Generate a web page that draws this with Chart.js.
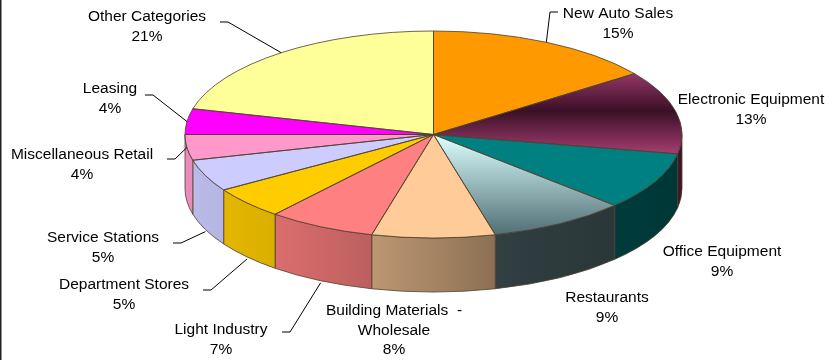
<!DOCTYPE html>
<html>
<head>
<meta charset="utf-8">
<title>Sales by category</title>
<script src="https://cdn.jsdelivr.net/npm/chart.js@4.4.1/dist/chart.umd.min.js"></script>
<style>
  html, body { margin: 0; padding: 0; background: #fff; }
  #wrap { width: 829px; height: 360px; }
</style>
</head>
<body>
<div id="wrap"><canvas id="pie" width="829" height="360"></canvas></div>
<script>
const categories = [
    "New Auto Sales", "Electronic Equipment", "Office Equipment", "Restaurants",
    "Building Materials  -\nWholesale", "Light Industry", "Department Stores",
    "Service Stations", "Miscellaneous Retail", "Leasing", "Other Categories",
];
const shares = [15, 13, 9, 9, 8, 7, 5, 5, 4, 4, 21];

// lid colours, and the base colour the outer wall is shaded from
const lidColors = ["#FF9900", "#993366", "#008080", "#CCFFFF", "#FFCC99", "#FF8080",
    "#FFCC00", "#CCCCFF", "#FF99CC", "#FF00FF", "#FFFF99"];
const wallColors = ["#FF9900", "#993366", "#008080", "#5A7478", "#FFCC99", "#FF8080",
    "#FFCC00", "#CCCCFF", "#FF99CC", "#FF00FF", "#FFFF99"];
// two slices get a vertical gradient on the lid: [screen y from, screen y to, stops]
const lidGradients = {
    1: [70, 152, [[0, "#9c3a6c"], [0.5, "#3a1026"], [1, "#a03c6e"]]],
    3: [135, 238, [[0, "#dcffff"], [1, "#4c6a70"]]],
};

// where each label sits: centre x, first line y, and the leader line start (null = none)
const labelSpots = [
    { x: 618, y: 14, lx: 558, ly: 12 },
    { x: 751, y: 100, lx: null },
    { x: 722, y: 252, lx: null },
    { x: 607, y: 298, lx: null },
    { x: 394, y: 311, lx: null },
    { x: 221, y: 330, lx: 282, ly: 332 },
    { x: 124, y: 285, lx: 203, ly: 290 },
    { x: 103, y: 238, lx: 173, ly: 243 },
    { x: 82, y: 155, lx: 167, ly: 159 },
    { x: 110, y: 89, lx: 145, ly: 95 },
    { x: 147, y: 17, lx: 220, ly: 22 },
];

const TOP_Y = 134.5;          // screen y of the lid centre
const TILT = 103.5 / 248.5;   // vertical squash of the lid
const DEPTH = 54;             // wall height
const EDGE = "rgba(75, 62, 45, 0.8)";
const FONT = "15.5px 'Liberation Sans', Arial, sans-serif";
const LINE_H = 19.5;

// light falls from the left: brightness of the wall by normalised x
const lightStops = [[-1, 0.92], [-0.6, 0.85], [-0.25, 0.74], [0.25, 0.55], [1, 0.42]];

function lightAt(u) {
    for (let i = 1; i < lightStops.length; i++) {
        const [u0, f0] = lightStops[i - 1];
        const [u1, f1] = lightStops[i];
        if (u <= u1) return f0 + (f1 - f0) * Math.max(0, (u - u0) / (u1 - u0));
    }
    return lightStops[lightStops.length - 1][1];
}

function shade(hex, f) {
    const n = parseInt(hex.slice(1), 16);
    const c = [n >> 16, (n >> 8) & 255, n & 255].map((v) => Math.round(v * f));
    return `rgb(${c[0]}, ${c[1]}, ${c[2]})`;
}

function lidFill(c) {
    const i = c.dataIndex;
    if (i === undefined) return lidColors[0];
    const area = c.chart.chartArea;
    const spec = lidGradients[i];
    if (!area || !spec) return lidColors[i];
    const midY = (area.top + area.bottom) / 2;
    const toChart = (ys) => midY + (ys - TOP_Y) / TILT;
    const g = c.chart.ctx.createLinearGradient(0, toChart(spec[0]), 0, toChart(spec[1]));
    spec[2].forEach(([t, col]) => g.addColorStop(t, col));
    return g;
}

const pie3d = {
    id: "pie3d",
    beforeDatasetsDraw(chart) {
        const ctx = chart.ctx;
        const arcs = chart.getDatasetMeta(0).data;
        const cx = arcs[0].x;
        const r = arcs[0].outerRadius;
        const ry = r * TILT;

        // outer wall, only the front half shows
        arcs.forEach((arc, i) => {
            const s = Math.max(arc.startAngle, 0);
            const e = Math.min(arc.endAngle, Math.PI);
            if (e <= s) return;
            const xl = cx + r * Math.cos(e);
            const xr = cx + r * Math.cos(s);
            const g = ctx.createLinearGradient(xl, 0, xr, 0);
            [0, 0.25, 0.5, 0.75, 1].forEach((t) => {
                const u = (xl + (xr - xl) * t - cx) / r;
                g.addColorStop(t, shade(wallColors[i], lightAt(u)));
            });
            ctx.beginPath();
            ctx.ellipse(cx, TOP_Y, r, ry, 0, s, e);
            ctx.ellipse(cx, TOP_Y + DEPTH, r, ry, 0, e, s, true);
            ctx.closePath();
            ctx.fillStyle = g;
            ctx.fill();
            ctx.strokeStyle = EDGE;
            ctx.lineWidth = 1;
            ctx.stroke();
        });

        // squash the circle Chart.js draws into the lid ellipse
        ctx.save();
        ctx.translate(0, TOP_Y);
        ctx.scale(1, TILT);
        ctx.translate(0, -arcs[0].y);
    },
    afterDatasetsDraw(chart) {
        const ctx = chart.ctx;
        ctx.restore();
        const arcs = chart.getDatasetMeta(0).data;
        const cx = arcs[0].x;
        const r = arcs[0].outerRadius;
        const ry = r * TILT;

        ctx.strokeStyle = EDGE;
        ctx.lineWidth = 1;
        arcs.forEach((arc) => {
            ctx.beginPath();
            ctx.moveTo(cx, TOP_Y);
            ctx.ellipse(cx, TOP_Y, r, ry, 0, arc.startAngle, arc.endAngle);
            ctx.closePath();
            ctx.stroke();
        });
    },
    afterDraw(chart) {
        const ctx = chart.ctx;
        const arcs = chart.getDatasetMeta(0).data;
        const cx = arcs[0].x;
        const r = arcs[0].outerRadius;
        const ry = r * TILT;

        ctx.save();
        ctx.font = FONT;
        ctx.fillStyle = "#000";
        ctx.textAlign = "center";
        ctx.textBaseline = "middle";
        arcs.forEach((arc, i) => {
            const spot = labelSpots[i];
            const lines = categories[i].split("\n").concat(shares[i] + "%");
            lines.forEach((txt, k) => ctx.fillText(txt, spot.x, spot.y + k * LINE_H));

            if (spot.lx === null) return;
            const mid = (arc.startAngle + arc.endAngle) / 2;
            let ax = cx + r * Math.cos(mid);
            let ay = TOP_Y + ry * Math.sin(mid);
            if (Math.sin(mid) > 0.3) ay += DEPTH + 2;   // front slices: point at the wall's foot
            const step = spot.lx < cx ? 8 : -8;
            ctx.beginPath();
            ctx.moveTo(spot.lx, spot.ly);
            ctx.lineTo(spot.lx + step, spot.ly);
            ctx.lineTo(ax, ay);
            ctx.strokeStyle = "#000";
            ctx.lineWidth = 1;
            ctx.stroke();
        });

        // frame edge on the left
        ctx.fillStyle = "#222";
        ctx.fillRect(0, 0, 1.5, chart.height);
        ctx.restore();
    },
};

new Chart(document.getElementById("pie"), {
    type: "pie",
    data: {
        labels: categories,
        datasets: [{
            data: shares,
            backgroundColor: lidFill,
            borderWidth: 0,
            radius: 248.5,
            clip: false,
        }],
    },
    options: {
        responsive: false,
        animation: false,
        events: [],
        layout: { padding: { left: 38 } },
        plugins: {
            legend: { display: false },
            tooltip: { enabled: false },
        },
    },
    plugins: [pie3d],
});
</script>
</body>
</html>
